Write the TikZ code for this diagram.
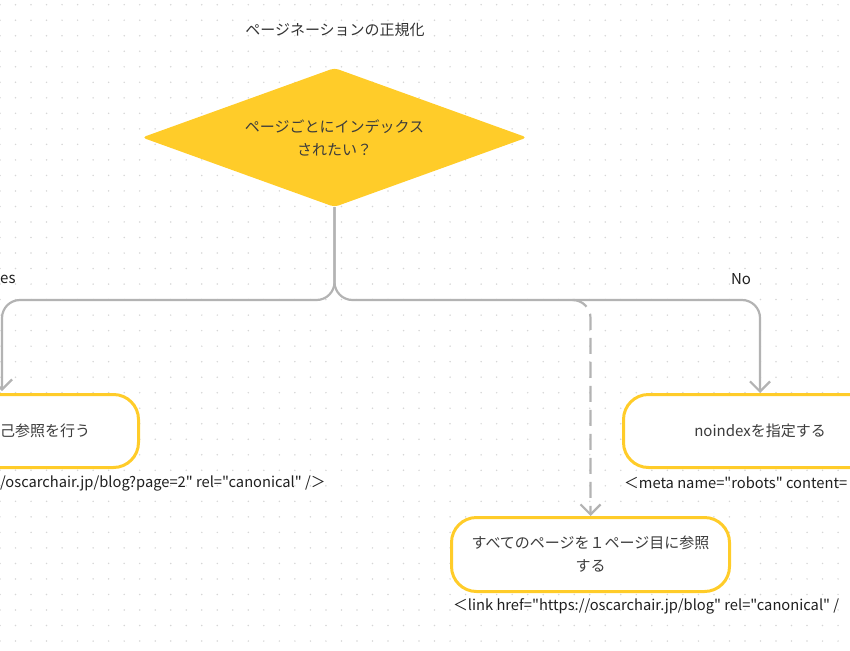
\documentclass[tikz,border=0pt]{standalone}
\usepackage{fontspec}
\setmainfont{Noto Sans CJK JP}
\newfontfamily\codefont{Noto Sans CJK JP}
\usetikzlibrary{positioning,shapes.geometric,arrows.meta,calc}

\definecolor{figyellow}{HTML}{FFCC29}
\definecolor{lineg}{HTML}{B3B3B3}
\definecolor{dotg}{HTML}{D6D6D6}
\definecolor{inkg}{HTML}{3C3C3C}

\tikzset{
  decision/.style={diamond, fill=figyellow, aspect=2.77, minimum width=385pt,
    minimum height=139pt, inner sep=0pt, rounded corners=4pt, align=center, text=inkg},
  stepbox/.style={rectangle, rounded corners=25pt, draw=figyellow, line width=3pt,
    fill=white, minimum height=73pt, align=center, text=inkg},
  flow/.style={draw=lineg, line width=2.2pt, rounded corners=18pt,
    -{Straight Barb[length=10pt,width=20pt]}},
  codetext/.style={anchor=west, inner sep=0pt, text=black!88, font=\fontsize{14.7}{23}\codefont},
}

\begin{document}
\begin{tikzpicture}[x=1pt,y=-1pt,font=\fontsize{15}{23}\selectfont]
\useasboundingbox (0,0) rectangle (850,650);
% dot grid
\foreach \i in {0,...,55}
  \foreach \j in {0,...,41}
    \fill[dotg] (15.52*\i,4.7+15.52*\j) circle (0.85pt);

\node[text=black!80] (title) at (335,30) {ページネーションの正規化};
\node[decision] (q) at (334.5,137.5) {ページごとにインデックス\\されたい？};

\node[stepbox, minimum width=187pt] (self) at (45,431) {己参照を行う};
\node[stepbox, minimum width=273pt] (noidx) at (760,431) {noindexを指定する};
\node[stepbox, minimum width=278pt, minimum height=74pt] (first) at (590.5,554.5)
  {すべてのページを１ページ目に参照\\する};

% code under the boxes
\node[codetext] (selfcode) at (0,483) {/oscarchair.jp/blog?page=2" rel="canonical" /＞};
\node[codetext] (noidxcode) at (624,483) {＜meta name="robots" content=};
\node[codetext] (firstcode) at (453,606) {＜link href="https://oscarchair.jp/blog" rel="canonical" /};

% branch labels
\node[anchor=west, inner sep=0pt, text=black!88] (yes) at (0,279) {es};
\node[text=black!88] (no) at (741,279) {No};

\coordinate (fork) at (334.5,300);
\coordinate (yestip) at (2,391);

\draw[flow] (q.south) |- (yestip |- fork) -- (yestip);
\draw[flow] (q.south) |- (noidx.north |- fork) -- (noidx.north);
\draw[flow, dash pattern=on 16pt off 8pt] ($(fork)+(238,0)$) -| (first.north);
\end{tikzpicture}
\end{document}
